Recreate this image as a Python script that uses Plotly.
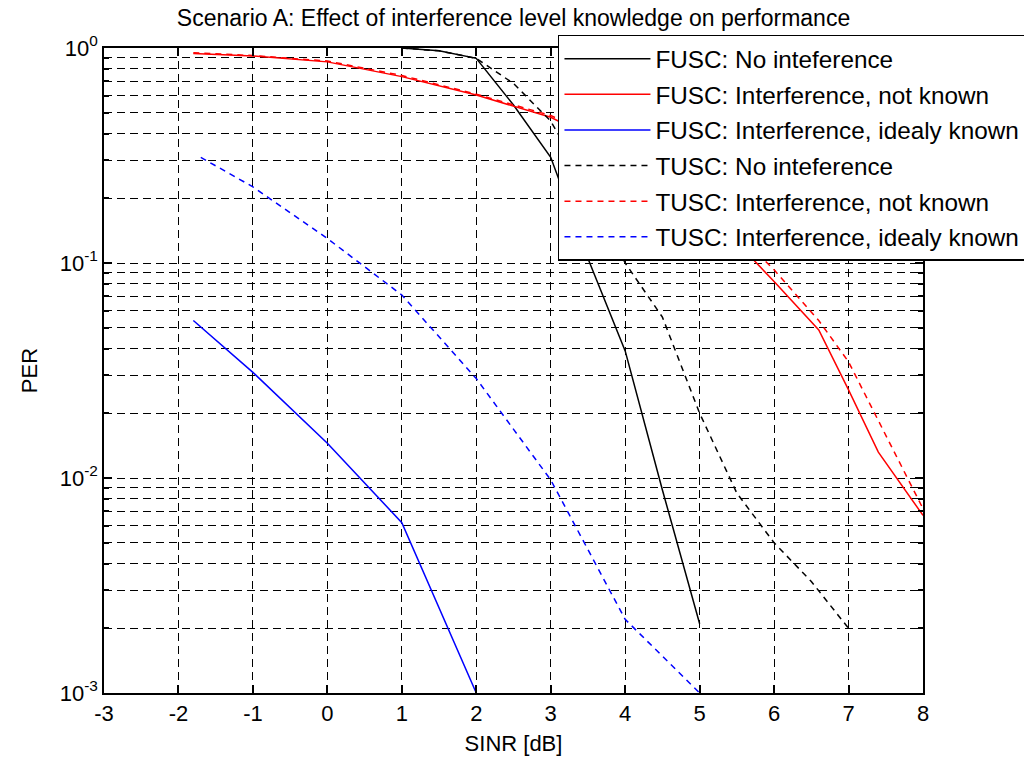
import plotly.graph_objects as go

# SINR [dB] sample points and measured packet error rates
snr_fusc_none = [1.0, 1.5, 2.0, 2.5, 3.0, 3.5, 4.0, 4.5, 5.0]
per_fusc_none = [1.0, 0.97, 0.895, 0.543, 0.31, 0.105, 0.039, 0.0088, 0.0021]

snr_fusc_unknown = [-1.8, -1.0, 0.0, 1.0, 2.0, 3.0, 4.0, 5.0, 6.0, 6.6, 7.0, 7.4, 8.0]
per_fusc_unknown = [0.944, 0.918, 0.862, 0.736, 0.604, 0.476, 0.32, 0.19, 0.082, 0.0488, 0.0257, 0.0132, 0.0067]

snr_fusc_known = [-1.8, -1.0, 0.0, 1.0, 2.0]
per_fusc_known = [0.054, 0.031, 0.0145, 0.0062, 0.001]

snr_tusc_none = [1.0, 1.5, 2.0, 2.5, 3.0, 3.5, 4.0, 4.5, 5.0, 5.5, 6.0, 6.5, 7.0]
per_tusc_none = [1.0, 0.97, 0.895, 0.684, 0.457, 0.23, 0.10, 0.056, 0.020, 0.0085, 0.0050, 0.0033, 0.0020]

snr_tusc_unknown = [-1.8, -1.0, 0.0, 1.0, 2.0, 3.0, 4.0, 5.0, 6.0, 6.6, 7.0, 7.4, 8.0]
per_tusc_unknown = [0.95, 0.922, 0.87, 0.745, 0.61, 0.485, 0.34, 0.204, 0.093, 0.054, 0.0347, 0.0186, 0.0072]

snr_tusc_known = [-1.7, -1.0, 0.0, 1.0, 2.0, 3.0, 4.0, 5.0]
per_tusc_known = [0.31, 0.226, 0.13, 0.071, 0.029, 0.0098, 0.0022, 0.001]

labels = [
    "FUSC: No inteference",
    "FUSC: Interference, not known",
    "FUSC: Interference, idealy known",
    "TUSC: No inteference",
    "TUSC: Interference, not known",
    "TUSC: Interference, idealy known",
]

x_ticks = [-3, -2, -1, 0, 1, 2, 3, 4, 5, 6, 7, 8]
x_tick_text = ["-3", "-2", "-1", "0", "1", "2", "3", "4", "5", "6", "7", "8"]

y_major = [1e-3, 1e-2, 1e-1, 1]
y_major_text = ["10<sup>-3</sup>", "10<sup>-2</sup>", "10<sup>-1</sup>", "10<sup>0</sup>"]
y_minor = [m * 10.0 ** e for e in (-3, -2, -1) for m in range(2, 10)]

FONT = "Liberation Sans, Arial, sans-serif"
DASH = "6px,5px"

series = [
    (snr_fusc_none, per_fusc_none, "black", "solid"),
    (snr_fusc_unknown, per_fusc_unknown, "#ff0000", "solid"),
    (snr_fusc_known, per_fusc_known, "#0000ff", "solid"),
    (snr_tusc_none, per_tusc_none, "black", DASH),
    (snr_tusc_unknown, per_tusc_unknown, "#ff0000", DASH),
    (snr_tusc_known, per_tusc_known, "#0000ff", DASH),
]

fig = go.Figure()
for i, ((xs, ys, color, dash), name) in enumerate(zip(series, labels)):
    fig.add_trace(go.Scatter(
        x=xs, y=ys, mode="lines", name=name, legendgroup=f"g{i}",
        line=dict(color=color, width=1.5, dash=dash),
    ))

grid_dash = "8px,5px"
fig.update_xaxes(
    range=[-3, 8], tickvals=x_ticks, ticktext=x_tick_text,
    showgrid=True, gridcolor="black", gridwidth=1.4, griddash=grid_dash,
    zeroline=False,
    showline=True, linecolor="black", linewidth=1.5, mirror="ticks",
    ticks="inside", ticklen=8, tickcolor="black", tickwidth=1.5,
    tickfont=dict(size=22, color="black", family=FONT),
    title=dict(text="SINR [dB]", font=dict(size=22, color="black", family=FONT), standoff=10),
)
fig.update_yaxes(
    type="log", range=[-3, 0],
    tickvals=y_major, ticktext=y_major_text,
    showgrid=True, gridcolor="black", gridwidth=1.4, griddash=grid_dash,
    zeroline=False,
    showline=True, linecolor="black", linewidth=1.5, mirror="ticks",
    ticks="inside", ticklen=8, tickcolor="black", tickwidth=1.5,
    tickfont=dict(size=22, color="black", family=FONT),
    minor=dict(
        tickvals=y_minor, ticks="inside", ticklen=5, tickcolor="black",
        showgrid=True, gridcolor="black", gridwidth=1.4, griddash=grid_dash,
    ),
    title=dict(text="PER", font=dict(size=22, color="black", family=FONT), standoff=16),
)

fig.update_layout(
    width=1024, height=762,
    margin=dict(l=104, r=101, t=48, b=69, autoexpand=False),
    paper_bgcolor="white", plot_bgcolor="white",
    font=dict(family=FONT, color="black"),
    title=dict(
        text="Scenario A: Effect of interference level knowledge on performance",
        x=0.5, xref="paper", xanchor="center",
        y=0.976, yref="container", yanchor="middle",
        font=dict(size=23, color="black", family=FONT),
    ),
    legend=dict(
        x=0.5543, y=1.0202, xanchor="left", yanchor="top",
        bgcolor="white", bordercolor="black", borderwidth=1.5,
        font=dict(size=24.3, color="black", family=FONT),
        itemwidth=86, tracegroupgap=1,
    ),
    showlegend=True,
)

fig.write_html("out.html")
